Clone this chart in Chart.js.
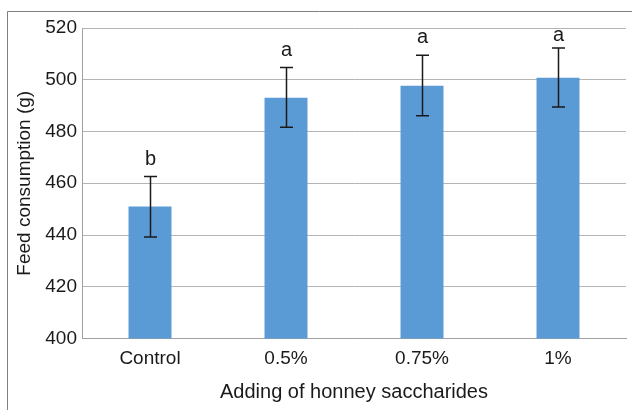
<!DOCTYPE html>
<html>
<head>
<meta charset="utf-8">
<script src="https://cdn.jsdelivr.net/npm/chart.js@4"></script>
<style>
    html, body { margin: 0; padding: 0; background: #fff; }
    #wrap { width: 632px; height: 410px; }
</style>
</head>
<body>
<div id="wrap"><canvas id="feedChart" width="632" height="410"></canvas></div>
<script>
// Feed consumption data
const categories = ['Control', '0.5%', '0.75%', '1%'];
const feedValues = [451, 493, 497.7, 500.8];
const errLow = [439.2, 481.6, 486.1, 489.5];
const errHigh = [462.6, 504.7, 509.5, 512.3];
const letters = ['b', 'a', 'a', 'a'];
const yTicks = [400, 420, 440, 460, 480, 500, 520];

const FONT = '"Liberation Sans", Arial, sans-serif';

// Outer frame (left and top edges only, rest runs off the picture)
const framePlugin = {
    id: 'frame',
    beforeDraw(chart) {
        const ctx = chart.ctx;
        ctx.save();
        ctx.strokeStyle = '#808080';
        ctx.lineWidth = 1;
        ctx.beginPath();
        ctx.moveTo(7.5, 410);
        ctx.lineTo(7.5, 11.5);
        ctx.lineTo(632, 11.5);
        ctx.stroke();
        ctx.restore();
    }
};

// Error bars and significance letters
const errorBarPlugin = {
    id: 'errorBars',
    afterDatasetsDraw(chart) {
        const ctx = chart.ctx;
        const y = chart.scales.y;
        const meta = chart.getDatasetMeta(0);
        ctx.save();
        ctx.strokeStyle = '#1a1a1a';
        ctx.lineWidth = 1.5;
        meta.data.forEach((bar, i) => {
            const x = Math.round(bar.x) + 0.5;
            const top = y.getPixelForValue(errHigh[i]);
            const bot = y.getPixelForValue(errLow[i]);
            ctx.beginPath();
            ctx.moveTo(x, top);
            ctx.lineTo(x, bot);
            ctx.moveTo(x - 6.5, top);
            ctx.lineTo(x + 6.5, top);
            ctx.moveTo(x - 6.5, bot);
            ctx.lineTo(x + 6.5, bot);
            ctx.stroke();

            ctx.fillStyle = '#1a1a1a';
            ctx.font = '20px ' + FONT;
            ctx.textAlign = 'center';
            ctx.textBaseline = 'alphabetic';
            const ly = Math.max(top - 12, chart.chartArea.top + 13);
            ctx.fillText(letters[i], x, ly);
        });
        ctx.restore();
    }
};

new Chart(document.getElementById('feedChart'), {
    type: 'bar',
    data: {
        labels: categories,
        datasets: [{
            label: 'Feed consumption (g)',
            data: feedValues,
            backgroundColor: '#5b9bd5',
            barPercentage: 0.316,
            categoryPercentage: 1.0
        }]
    },
    options: {
        responsive: false,
        animation: false,
        layout: {
            padding: { left: 9, top: 28, right: 6, bottom: 0 }
        },
        plugins: {
            legend: { display: false },
            tooltip: { enabled: false }
        },
        scales: {
            x: {
                grid: { display: false, drawTicks: false },
                border: { color: '#a0a0a0', width: 1 },
                ticks: {
                    color: '#1a1a1a',
                    padding: 9,
                    font: { family: FONT, size: 19 }
                },
                title: {
                    display: true,
                    text: 'Adding of honney saccharides',
                    color: '#1a1a1a',
                    padding: { top: 4, bottom: 6 },
                    font: { family: FONT, size: 20 }
                },
                afterFit(scale) { scale.height = 71.5; }
            },
            y: {
                min: 400,
                max: 520,
                afterBuildTicks(scale) {
                    scale.ticks = yTicks.map(v => ({ value: v }));
                },
                grid: { color: '#b4b4b4', drawTicks: false },
                border: { color: '#a0a0a0', width: 1 },
                ticks: {
                    color: '#1a1a1a',
                    padding: 5,
                    font: { family: FONT, size: 19 }
                },
                title: {
                    display: true,
                    text: 'Feed consumption (g)',
                    color: '#1a1a1a',
                    padding: { top: 4, bottom: 4 },
                    font: { family: FONT, size: 19 }
                },
                afterFit(scale) { scale.width = 73; }
            }
        }
    },
    plugins: [framePlugin, errorBarPlugin]
});
</script>
</body>
</html>
